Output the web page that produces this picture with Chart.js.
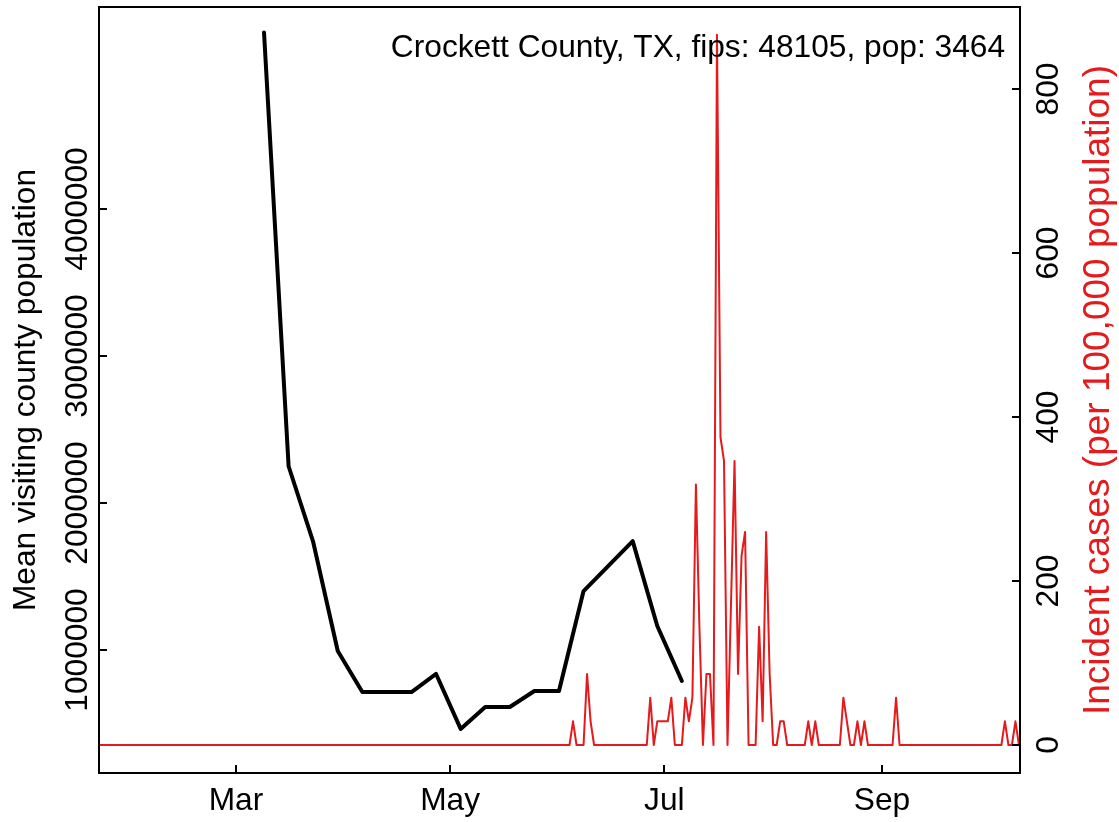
<!DOCTYPE html>
<html>
<head>
<meta charset="utf-8">
<script src="https://cdn.jsdelivr.net/npm/chart.js@4.4.1/dist/chart.umd.min.js"></script>
<style>
html,body{margin:0;padding:0;background:#fff;}
#wrap{width:1119px;height:822px;}
</style>
</head>
<body>
<div id="wrap"><canvas id="c" width="1119" height="822"></canvas></div>
<script>
// ---------- text ----------
const titleText = 'Crockett County, TX, fips: 48105, pop: 3464';
const leftAxisTitle = 'Mean visiting county population';
const rightAxisTitle = 'Incident cases (per 100,000 population)';

// ---------- x axis (days since 1 Mar 2020) ----------
const monthTickDays = [0, 61, 122, 184];
const monthTickLabels = ['Mar', 'May', 'Jul', 'Sep'];

// ---------- left axis ----------
const visitTickValues = [1000000, 2000000, 3000000, 4000000];
const visitTickLabels = ['1000000', '2000000', '3000000', '4000000'];

// ---------- right axis ----------
const caseTickValues = [0, 200, 400, 600, 800];
const caseTickLabels = ['0', '200', '400', '600', '800'];

// ---------- black series: weekly mean visiting county population ----------
const visitDays = [8, 15, 22, 29, 36, 43, 50, 57, 64, 71, 78, 85, 92, 99, 106, 113, 120, 127];
const visitValues = [5200000, 2250000, 1735000, 993000, 714000, 714000, 714000, 837000, 463000,
                     612000, 612000, 721000, 721000, 1401000, 1571000, 1741000, 1163000, 789000];

// ---------- red series: daily incident cases per 100,000 ----------
const caseStartDay = -39; // 22 Jan 2020
const casesPer100k = [
  0,0,0,0,0,0,0,0,0,0,
  0,0,0,0,0,0,0,0,0,0,
  0,0,0,0,0,0,0,0,0,0,
  0,0,0,0,0,0,0,0,0,0,
  0,0,0,0,0,0,0,0,0,0,
  0,0,0,0,0,0,0,0,0,0,
  0,0,0,0,0,0,0,0,0,0,
  0,0,0,0,0,0,0,0,0,0,
  0,0,0,0,0,0,0,0,0,0,
  0,0,0,0,0,0,0,0,0,0,
  0,0,0,0,0,0,0,0,0,0,
  0,0,0,0,0,0,0,0,0,0,
  0,0,0,0,0,0,0,0,0,0,
  0,0,0,0,0,28.9,0,0,0,86.6,
  28.9,0,0,0,0,0,0,0,0,0,
  0,0,0,0,0,0,0,57.7,0,28.9,
  28.9,28.9,28.9,57.7,0,0,0,57.7,28.9,57.7,
  317.6,144.3,0,86.6,86.6,0,866.1,375.3,346.4,0,
  173.2,346.4,86.6,230.9,259.8,0,0,0,144.3,28.9,
  259.8,86.6,0,0,28.9,28.9,0,0,0,0,
  0,0,28.9,0,28.9,0,0,0,0,0,
  0,0,57.7,28.9,0,0,28.9,0,28.9,0,
  0,0,0,0,0,0,0,57.7,0,0,
  0,0,0,0,0,0,0,0,0,0,
  0,0,0,0,0,0,0,0,0,0,
  0,0,0,0,0,0,0,0,28.9,0,
  0,28.9,0,0
];

// ---------- axis ranges ----------
const xRange = [-39, 223.3];
const visitRange = [163265, 5374150];
const caseRange = [-34.15, 900];

const FONT = "'Liberation Sans', Arial, Helvetica, sans-serif";
const FSIZE = 31.7;
const RED = '#e41a1c';

const framePlugin = {
  id: 'frame',
  beforeDraw(chart) {
    const c = chart.ctx;
    c.save();
    c.fillStyle = '#fff';
    c.fillRect(0, 0, chart.width, chart.height);
    c.restore();
  },
  afterDraw(chart) {
    const c = chart.ctx, a = chart.chartArea;
    const sx = chart.scales.x, sy = chart.scales.y, sy2 = chart.scales.y2;
    c.save();
    c.strokeStyle = '#000';
    c.lineWidth = 2;
    c.strokeRect(a.left, a.top, a.right - a.left, a.bottom - a.top);
    c.beginPath();
    monthTickDays.forEach(d => {
      const px = Math.round(sx.getPixelForValue(d));
      c.moveTo(px, a.bottom); c.lineTo(px, a.bottom - 8);
    });
    visitTickValues.forEach(v => {
      const py = Math.round(sy.getPixelForValue(v));
      c.moveTo(a.left, py); c.lineTo(a.left + 8, py);
    });
    caseTickValues.forEach(v => {
      const py = Math.round(sy2.getPixelForValue(v));
      c.moveTo(a.right, py); c.lineTo(a.right - 8, py);
    });
    c.stroke();

    c.font = FSIZE + 'px ' + FONT;
    c.textAlign = 'center';
    c.textBaseline = 'alphabetic';
    c.fillStyle = '#000';
    visitTickValues.forEach((v, i) => {
      const py = sy.getPixelForValue(v);
      c.save(); c.translate(a.left - 12, py); c.rotate(-Math.PI / 2);
      c.fillText(visitTickLabels[i], 0, 0); c.restore();
    });
    caseTickValues.forEach((v, i) => {
      const py = sy2.getPixelForValue(v);
      c.save(); c.translate(a.right + 38, py); c.rotate(-Math.PI / 2);
      c.fillText(caseTickLabels[i], 0, 0); c.restore();
    });
    const midY = (a.top + a.bottom) / 2;
    c.save(); c.translate(35, midY); c.rotate(-Math.PI / 2);
    c.fillText(leftAxisTitle, 0, 0); c.restore();
    c.fillStyle = RED;
    c.font = '37px ' + FONT;
    c.save(); c.translate(1109, midY); c.rotate(-Math.PI / 2);
    c.fillText(rightAxisTitle, 0, 0); c.restore();

    c.font = FSIZE + 'px ' + FONT;
    c.fillStyle = '#000';
    c.textAlign = 'right';
    c.fillText(titleText, a.right - 15, a.top + 50);
    c.restore();
  }
};

new Chart(document.getElementById('c'), {
  type: 'line',
  data: {
    datasets: [
      {
        label: 'Mean visiting county population',
        data: visitDays.map((d, i) => ({ x: d, y: visitValues[i] })),
        xAxisID: 'x', yAxisID: 'y',
        borderColor: '#000', borderWidth: 4,
        borderJoinStyle: 'round', borderCapStyle: 'round',
        pointRadius: 0, tension: 0, fill: false, order: 2
      },
      {
        label: 'Incident cases',
        data: casesPer100k.map((v, i) => ({ x: caseStartDay + i, y: v })),
        xAxisID: 'x', yAxisID: 'y2',
        borderColor: RED, borderWidth: 2,
        borderJoinStyle: 'round', borderCapStyle: 'round',
        pointRadius: 0, tension: 0, fill: false, order: 1
      }
    ]
  },
  options: {
    responsive: false,
    animation: false,
    devicePixelRatio: 1,
    layout: { padding: { left: 99, right: 99, top: 7, bottom: 0 } },
    plugins: { legend: { display: false }, tooltip: { enabled: false } },
    scales: {
      x: {
        type: 'linear', position: 'bottom',
        min: xRange[0], max: xRange[1],
        afterFit(s) { s.height = 49; },
        afterBuildTicks(s) { s.ticks = monthTickDays.map(v => ({ value: v })); },
        grid: { display: false, drawTicks: false },
        border: { display: false },
        ticks: {
          autoSkip: false, maxRotation: 0, minRotation: 0, padding: 9,
          color: '#000', font: { family: FONT, size: FSIZE },
          callback: (v) => monthTickLabels[monthTickDays.indexOf(v)]
        }
      },
      y: { type: 'linear', display: false, min: visitRange[0], max: visitRange[1] },
      y2: { type: 'linear', display: false, min: caseRange[0], max: caseRange[1] }
    }
  },
  plugins: [framePlugin]
});
</script>
</body>
</html>
